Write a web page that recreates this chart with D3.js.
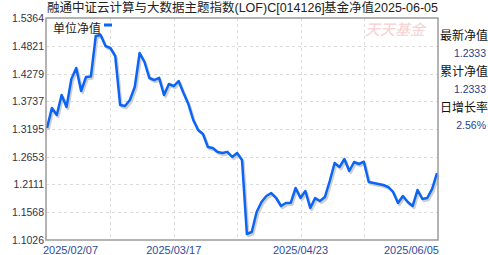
<!DOCTYPE html>
<html>
<head>
<meta charset="utf-8">
<script src="https://cdn.jsdelivr.net/npm/d3@7"></script>
<style>
  body { margin: 0; background: #fff; }
  text { font-family: "Liberation Sans", Arial, "Noto Sans CJK SC", sans-serif; }
</style>
</head>
<body>
<div id="chart"></div>
<script>
// chart values
var fundName = "融通中证云计算与大数据主题指数(LOF)C[014126]";
var titleRight = "基金净值2025-06-05";
var seriesName = "单位净值";
var yTicks = [1.1026, 1.1568, 1.2111, 1.2653, 1.3195, 1.3737, 1.4279, 1.4821, 1.5364];
var xLabels = [[0, "2025/02/07"], [26, "2025/03/17"], [52, "2025/04/23"], [80, "2025/06/05"]];
var xGrid = [13, 26, 39, 52, 65];
var nav = [
  1.3214, 1.3605, 1.3469, 1.3859, 1.3625, 1.4172, 1.4387, 1.3937, 1.4211, 1.4220,
  1.5012, 1.5032, 1.4817, 1.4778, 1.4621, 1.3664, 1.3644, 1.3762, 1.4016, 1.4680,
  1.4504, 1.4191, 1.4152, 1.4195, 1.3859, 1.4074, 1.4035, 1.4133, 1.3898, 1.3683,
  1.3371, 1.3175, 1.3097, 1.2843, 1.2824, 1.2746, 1.2726, 1.2748, 1.2648, 1.2726,
  1.2589, 1.1143, 1.1182, 1.1573, 1.1769, 1.1886, 1.1944, 1.1847, 1.1690, 1.1749,
  1.1752, 1.2042, 1.1847, 1.1983, 1.1651, 1.1845, 1.1788, 1.1866, 1.2179, 1.2531,
  1.2452, 1.2609, 1.2374, 1.2550, 1.2511, 1.2556, 1.2159, 1.2140, 1.2120, 1.2101,
  1.2062, 1.1964, 1.1749, 1.1886, 1.1769, 1.1690, 1.2003, 1.1827, 1.1847, 1.2025,
  1.2333
];
var infoLabels = ["最新净值", "累计净值", "日增长率"];
var infoValues = ["1.2333", "1.2333", "2.56%"];

// size and margins
var margin = {top: 18, right: 50, bottom: 15, left: 46},
    width = 488 - margin.left - margin.right,
    height = 255 - margin.top - margin.bottom;

var root = d3.select("#chart")
  .append("svg")
    .attr("width", 488)
    .attr("height", 255);

var svg = root.append("g")
    .attr("transform", "translate(" + margin.left + "," + margin.top + ")");

var x = d3.scaleLinear()
  .domain([0, nav.length - 1])
  .range([1, width - 1]);

var y = d3.scaleLinear()
  .domain([yTicks[0], yTicks[yTicks.length - 1]])
  .range([height, 0]);

// dashed grid
svg.selectAll("hgrid")
  .data(yTicks.slice(1, -1))
  .enter()
  .append("line")
    .attr("x1", 0).attr("x2", width)
    .attr("y1", function(d) { return Math.round(y(d)) + 0.5; })
    .attr("y2", function(d) { return Math.round(y(d)) + 0.5; })
    .attr("stroke", "#dcdcdc")
    .attr("stroke-dasharray", "3,3");

svg.selectAll("vgrid")
  .data(xGrid)
  .enter()
  .append("line")
    .attr("x1", function(d) { return Math.round(x(d)) + 0.5; })
    .attr("x2", function(d) { return Math.round(x(d)) + 0.5; })
    .attr("y1", 0).attr("y2", height)
    .attr("stroke", "#dcdcdc")
    .attr("stroke-dasharray", "3,3");

// watermark
svg.append("text")
  .attr("x", width - 73)
  .attr("y", 17)
  .style("font-size", "15px")
  .style("font-style", "italic")
  .style("fill", "#f6d0d0")
  .text("天天基金");

// line with its grey shadow
var line = d3.line()
  .x(function(d, i) { return x(i); })
  .y(function(d) { return y(d); });

svg.append("path")
  .datum(nav)
  .attr("d", line)
  .attr("transform", "translate(1.5,2)")
  .attr("fill", "none")
  .attr("stroke", "#cfcfcf")
  .attr("stroke-width", 2.5)
  .attr("stroke-linejoin", "round");

svg.append("path")
  .datum(nav)
  .attr("d", line)
  .attr("fill", "none")
  .attr("stroke", "#0a64f5")
  .attr("stroke-width", 2.5)
  .attr("stroke-linejoin", "round");

// frame
svg.append("rect")
  .attr("x", 0).attr("y", 0)
  .attr("width", width).attr("height", height)
  .attr("fill", "none")
  .attr("stroke", "#9a9a9a")
  .attr("stroke-width", 1.5);

// y labels
svg.selectAll("ylab")
  .data(yTicks)
  .enter()
  .append("text")
    .attr("x", -2)
    .attr("y", function(d) { return y(d) + 4; })
    .attr("text-anchor", "end")
    .style("font-size", "10.5px")
    .style("fill", "#333344")
    .text(function(d) { return d.toFixed(4); });

// x labels
svg.selectAll("xlab")
  .data(xLabels)
  .enter()
  .append("text")
    .attr("x", function(d, i) {
      if (i == 0) return x(d[0]) - 4;
      if (i == xLabels.length - 1) return x(d[0]) + 2;
      return x(d[0]);
    })
    .attr("y", height + 14)
    .attr("text-anchor", function(d, i) {
      return i == 0 ? "start" : (i == xLabels.length - 1 ? "end" : "middle");
    })
    .style("font-size", "11px")
    .style("fill", "#2f4d9c")
    .text(function(d) { return d[1]; });

// legend
svg.append("text")
  .attr("x", 7)
  .attr("y", 15)
  .style("font-size", "12px")
  .style("fill", "#222")
  .text(seriesName);
svg.append("line")
  .attr("x1", 58).attr("x2", 66)
  .attr("y1", 7).attr("y2", 7)
  .attr("stroke", "#0a64f5")
  .attr("stroke-width", 3);

// title (two pieces, they overlap like in the original)
root.append("text")
  .attr("x", 47)
  .attr("y", 12)
  .style("font-size", "12.5px")
  .style("fill", "#222")
  .text(fundName);
root.append("text")
  .attr("x", margin.left + width)
  .attr("y", 12)
  .attr("text-anchor", "end")
  .style("font-size", "12.5px")
  .style("fill", "#222")
  .text(titleRight);

// right info panel
var info = root.append("g");
infoLabels.forEach(function(lab, i) {
  info.append("text")
    .attr("x", 440)
    .attr("y", 40 + i * 36)
    .style("font-size", "12px")
    .style("fill", "#111")
    .text(lab);
  info.append("text")
    .attr("x", 486)
    .attr("y", 57 + i * 36)
    .attr("text-anchor", "end")
    .style("font-size", "10.5px")
    .style("fill", "#1f3f8f")
    .text(infoValues[i]);
});
</script>
</body>
</html>
